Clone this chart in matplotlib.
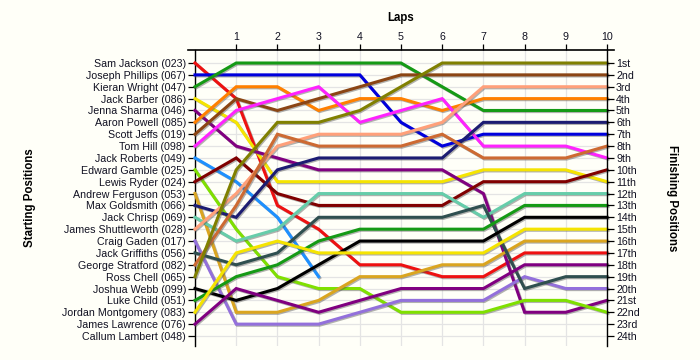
import numpy as np
import matplotlib
matplotlib.use("Agg")
import matplotlib.pyplot as plt
import matplotlib.patheffects as pe

plt.rcParams['font.family'] = ['Liberation Sans', 'DejaVu Sans']

laps = list(range(0, 11))
lap_labels = [str(i) for i in range(1, 11)]

drivers = ["Sam Jackson (023)", "Joseph Phillips (067)", "Kieran Wright (047)",
           "Jack Barber (086)", "Jenna Sharma (046)", "Aaron Powell (085)",
           "Scott Jeffs (019)", "Tom Hill (098)", "Jack Roberts (049)",
           "Edward Gamble (025)", "Lewis Ryder (024)", "Andrew Ferguson (053)",
           "Max Goldsmith (066)", "Jack Chrisp (069)", "James Shuttleworth (028)",
           "Craig Gaden (017)", "Jack Griffiths (056)", "George Stratford (082)",
           "Ross Chell (065)", "Joshua Webb (099)", "Luke Child (051)",
           "Jordan Montgomery (083)", "James Lawrence (076)", "Callum Lambert (048)"]

finish_labels = ["1st", "2nd", "3rd", "4th", "5th", "6th", "7th", "8th", "9th", "10th",
                 "11th", "12th", "13th", "14th", "15th", "16th", "17th", "18th", "19th",
                 "20th", "21st", "22nd", "23rd", "24th"]

N = np.nan
sam_jackson        = [1, 4, 13, 15, 18, 18, 19, 19, 17, 17, 17]
joseph_phillips    = [2, 2, 2, 2, 2, 6, 8, 7, 7, 7, 7]
kieran_wright      = [3, 1, 1, 1, 1, 1, 3, 5, 5, 5, 5]
jack_barber        = [4, 6, 11, 11, 11, 11, 11, 10, 10, 10, 11]
jenna_sharma       = [5, 8, 9, 10, 10, 10, 10, 12, 22, 22, 21]
aaron_powell       = [6, 3, 3, 5, 4, 4, 5, 4, 4, 4, 4]
scott_jeffs        = [7, 4, 5, 4, 3, 2, 2, 2, 2, 2, 2]
tom_hill           = [8, 5, 4, 3, 6, 5, 4, 8, 8, 8, 9]
jack_roberts       = [9, 11, 14, 19, N, N, N, N, N, N, N]
edward_gamble      = [10, 15, 19, 20, 20, 22, 22, 22, 21, 21, 22]
lewis_ryder        = [11, 9, 12, 13, 13, 13, 13, 11, 11, 11, 10]
andrew_ferguson    = [12, 22, 22, 21, 19, 19, 18, 18, 16, 16, 16]
max_goldsmith      = [13, 14, 10, 9, 9, 9, 9, 6, 6, 6, 6]
jack_chrisp        = [14, 16, 15, 12, 12, 12, 12, 14, 12, 12, 12]
james_shuttleworth = [15, 12, 8, 7, 7, 7, 6, 3, 3, 3, 3]
craig_gaden        = [16, 23, 23, 23, 22, 21, 21, 21, 19, 20, 20]
jack_griffiths     = [17, 18, 17, 14, 14, 14, 14, 13, 20, 19, 19]
george_stratford   = [18, 13, 7, 8, 8, 8, 7, 9, 9, 9, 8]
ross_chell         = [19, 10, 6, 6, 5, 3, 1, 1, 1, 1, 1]
joshua_webb        = [20, 21, 20, 18, 16, 16, 16, 16, 14, 14, 14]
luke_child         = [21, 19, 18, 16, 15, 15, 15, 15, 13, 13, 13]
jordan_montgomery  = [22, 17, 16, 17, 17, 17, 17, 17, 15, 15, 15]
james_lawrence     = [23, 20, 21, 22, 21, 20, 20, 20, 18, 18, 18]
callum_lambert     = [N, N, N, N, N, N, N, N, N, N, N]

series = [sam_jackson, joseph_phillips, kieran_wright, jack_barber, jenna_sharma,
          aaron_powell, scott_jeffs, tom_hill, jack_roberts, edward_gamble,
          lewis_ryder, andrew_ferguson, max_goldsmith, jack_chrisp,
          james_shuttleworth, craig_gaden, jack_griffiths, george_stratford,
          ross_chell, joshua_webb, luke_child, jordan_montgomery, james_lawrence,
          callum_lambert]

colors = ["#ee1111", "#0000dd", "#159a15", "#f5e400", "#800080", "#ff8000",
          "#8b4513", "#ff22ff", "#1e90ff", "#7fe000", "#800000", "#daa520",
          "#1c1c72", "#66cdaa", "#ffa07a", "#9370db", "#2f4f4f", "#cd6a32",
          "#808000", "#000000", "#159a15", "#f5e400", "#800080", "#cc0000"]

bg = "#fffff8"
fs = 7.7
fig = plt.figure(figsize=(7, 3.6), dpi=100, facecolor=bg)
ax = fig.add_axes([195/700, 1 - 346/360, 412/700, 296/360])
ax.set_facecolor(bg)

shadow = [pe.SimpleLineShadow(offset=(0.8, -0.8), shadow_color='#555555', alpha=0.45),
          pe.Normal()]
for vals, c in zip(series, colors):
    y = np.array(vals, dtype=float)
    if np.all(np.isnan(y)):
        continue
    ax.plot(laps, y, color=c, lw=2.2, solid_joinstyle='miter', zorder=3,
            path_effects=shadow, clip_on=False)

ax.set_xlim(0, 10)
ax.set_ylim(24 + 10/11.87, 1 - 13/11.87)

pos = list(range(1, 25))
ax.set_yticks(pos)
ax.set_yticklabels(drivers, fontsize=fs, color='#111122')
ax.tick_params(axis='y', which='both', direction='out', length=5, width=0.9,
               left=True, right=False, labelleft=True, labelright=False, pad=1.5)

ax2 = ax.twinx()
ax2.set_ylim(ax.get_ylim())
ax2.set_yticks(pos)
ax2.set_yticklabels(finish_labels, fontsize=fs, color='#111122')
ax2.tick_params(axis='y', direction='out', length=5, width=0.9, pad=1.5)

ax.set_xticks(laps[1:])
ax.set_xticklabels(lap_labels, fontsize=fs, color='#111122')
ax.xaxis.tick_top()
ax.tick_params(axis='x', direction='out', length=4, width=0.9, pad=1.5,
               bottom=False, labelbottom=False, top=True, labeltop=True)

for p in pos:
    ax.axhline(p, color='#e4e4e4', lw=0.9, zorder=1)
for l in laps:
    ax.axvline(l, color='#e4e4e4', lw=0.9, zorder=1)

for a in (ax, ax2):
    a.spines['bottom'].set_visible(False)
    a.spines['top'].set_visible(False)
    a.spines['left'].set_linewidth(1.0)
    a.spines['right'].set_linewidth(1.0)
    a.set_facecolor('none')
ax2.spines['left'].set_visible(False)
ax.spines['right'].set_visible(False)

ax.plot([-0.018, 1.018], [1, 1], transform=ax.transAxes, color='black', lw=1.2,
        clip_on=False, zorder=5)

fig.text(401/700, 1 - 18/360, "Laps", ha='center', va='center', fontsize=8.3,
         fontweight='bold')
fig.text(30/700, 1 - 198/360, "Starting Positions", ha='center', va='center',
         rotation=90, fontsize=8.3, fontweight='bold')
fig.text(672/700, 1 - 198/360, "Finishing Positions", ha='center', va='center',
         rotation=270, fontsize=8.3, fontweight='bold')

fig.savefig("out.png", dpi=100, facecolor=bg)
